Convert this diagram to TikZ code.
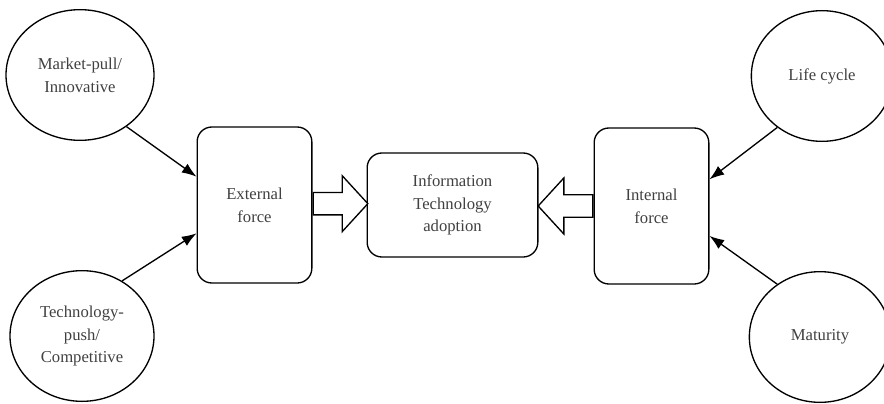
\documentclass[tikz,border=0pt]{standalone}
\usepackage{fontspec}
\setmainfont{Liberation Serif}
\usetikzlibrary{shapes.geometric,shapes.arrows,arrows.meta,calc}

\begin{document}
\begin{tikzpicture}[x=0.75pt, y=-0.75pt,
	font=\fontsize{12.5}{17}\selectfont,
	factor/.style={draw, line width=1pt, ellipse, text=black!75, align=center, minimum width=111pt, minimum height=98pt},
	force/.style={draw, line width=1pt, rounded corners=11pt, text=black!75, align=center, minimum width=86pt, minimum height=117pt},
	push/.style={draw, line width=1pt, single arrow, fill=white, inner xsep=0pt, inner ysep=7.9pt, minimum width=41pt, single arrow head extend=12.6pt, single arrow tip angle=95, minimum height=41pt},
	link/.style={line width=1pt, -{Latex[length=11pt, width=8pt]}}]

	\useasboundingbox (0,0) rectangle (884,403);

	% the boxes
	\node[force] (ext) at (254.5,205) {External\\force};
	\node[force, minimum width=128pt, minimum height=78pt] (ita) at (452.5,205) {Information\\Technology\\adoption};
	\node[force] (int) at (651.5,206) {Internal\\force};

	% the four drivers
	\node[factor] (mpull) at (80,75) {Market-pull/\\Innovative};
	\node[factor, minimum width=108pt] (tpush) at (82,336) {Technology-\\push/\\Competitive};
	\node[factor, minimum width=106pt] (life) at (822,76) {Life cycle};
	\node[factor, minimum width=106pt] (matur) at (820,337) {Maturity};

	% hollow arrows into the middle box
	\node[push, anchor=tail] (extarrow) at ([yshift=1pt]ext.east) {};
	\node[push, shape border rotate=180, anchor=tail] (intarrow) at (int.west) {};

	% arrows from the drivers
	\draw[link] (mpull.-48) -- ($(ext.north west)!0.32!(ext.south west)$);
	\draw[link] (tpush.54) -- ($(ext.north west)!0.68!(ext.south west)$);
	\draw[link] (life.-131) -- ($(int.north east)!0.33!(int.south east)$);
	\draw[link] (matur.129) -- ($(int.north east)!0.69!(int.south east)$);

\end{tikzpicture}
\end{document}
